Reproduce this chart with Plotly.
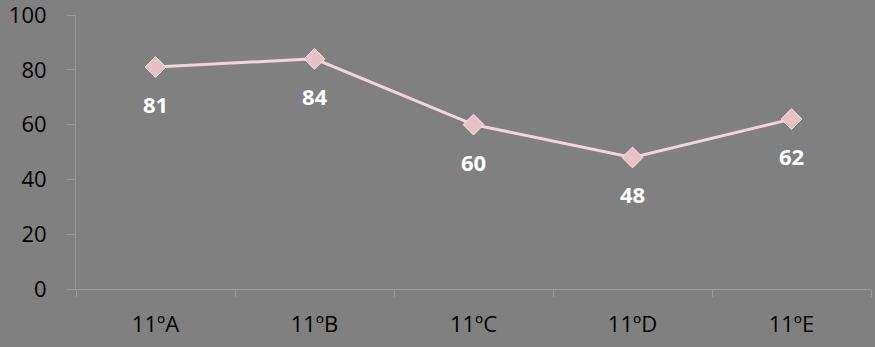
import plotly.graph_objects as go

categories = ["11ºA", "11ºB", "11ºC", "11ºD", "11ºE"]
values = [81, 84, 60, 48, 62]
y_ticks = [0, 20, 40, 60, 80, 100]

BG = "#808080"
FONT = "Open Sans"
fig = go.Figure()
fig.add_trace(go.Scatter(
    x=categories, y=values, mode="lines+markers",
    line=dict(color="#F4D3DA", width=3),
    marker=dict(symbol="diamond", size=16, color="#E8C0C6",
                line=dict(color="#F8E6EA", width=1)),
    hoverinfo="skip", showlegend=False,
))
for c, v in zip(categories, values):
    fig.add_annotation(x=c, y=v, text=f"<b>{v}</b>", showarrow=False,
                       yshift=-37, font=dict(family=FONT, size=22, color="white"))

fig.update_layout(
    width=875, height=347,
    paper_bgcolor=BG, plot_bgcolor=BG,
    margin=dict(l=76, r=4, t=15, b=58),
    font=dict(family=FONT, color="black"),
)
fig.update_xaxes(
    type="category", showgrid=False, zeroline=False, automargin=False,
    showline=True, linecolor="#9A9A9A", linewidth=1,
    ticks="outside", tickson="boundaries", ticklen=7, tickcolor="#9A9A9A",
    tickfont=dict(size=22, color="black", family=FONT),
    ticklabelstandoff=16, range=[-0.5, 4.5],
)
fig.update_yaxes(
    range=[0, 100], tickvals=y_ticks, showgrid=False, zeroline=False, automargin=False,
    showline=True, linecolor="#9A9A9A", linewidth=1,
    ticks="outside", ticklen=8, tickcolor="#9A9A9A",
    tickfont=dict(size=22, color="black", family=FONT),
    ticklabelstandoff=16, ticklabeloverflow="allow",
)
fig.write_html("out.html", config={"displayModeBar": False},
               post_script="document.body.style.margin='0';document.body.style.background='#808080';")
